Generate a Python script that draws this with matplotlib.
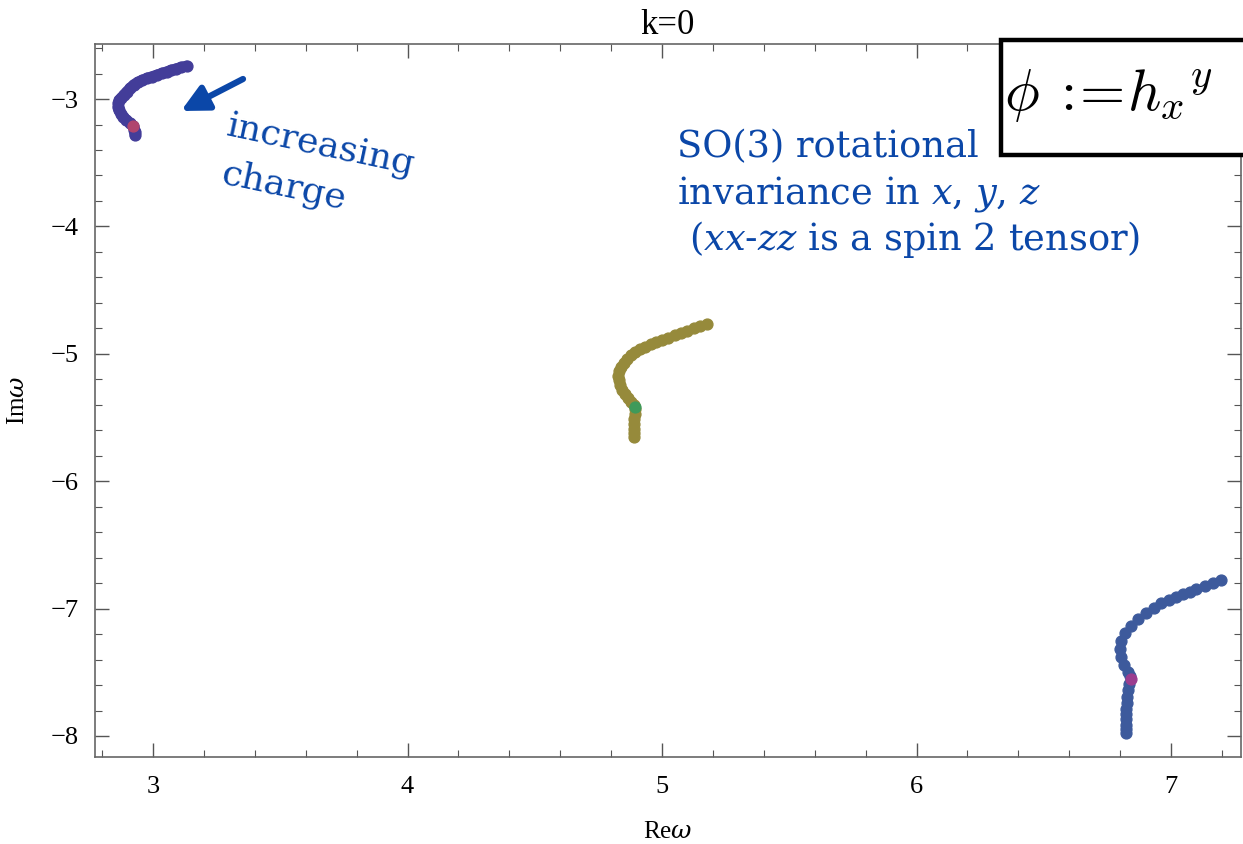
import matplotlib
matplotlib.use("Agg")
import matplotlib.pyplot as plt
from matplotlib.patches import Rectangle
from matplotlib.ticker import MultipleLocator

# quasinormal mode trajectories (Re w, Im w)
re_1 = [3.132, 3.110, 3.090, 3.070, 3.054, 3.035, 3.015, 2.995, 2.975, 2.958,
        2.940, 2.924, 2.910, 2.897, 2.885, 2.876, 2.868, 2.864, 2.863, 2.866,
        2.874, 2.883, 2.895, 2.910, 2.923, 2.927, 2.929, 2.929]
im_1 = [-2.741, -2.752, -2.763, -2.775, -2.786, -2.799, -2.812, -2.825, -2.838, -2.853,
        -2.868, -2.888, -2.916, -2.942, -2.968, -2.990, -3.008, -3.035, -3.060, -3.086,
        -3.115, -3.140, -3.165, -3.190, -3.210, -3.240, -3.262, -3.283]
mark_1 = (2.923, -3.210)

re_2 = [5.175, 5.150, 5.125, 5.100, 5.075, 5.050, 5.025, 5.000, 4.978, 4.955,
        4.935, 4.915, 4.895, 4.878, 4.862, 4.849, 4.838, 4.831, 4.828, 4.829,
        4.834, 4.843, 4.855, 4.867, 4.880, 4.890, 4.893, 4.892, 4.891, 4.890,
        4.890, 4.890, 4.890]
im_2 = [-4.766, -4.783, -4.800, -4.818, -4.835, -4.853, -4.872, -4.890, -4.905, -4.924,
        -4.943, -4.963, -4.986, -5.012, -5.040, -5.070, -5.103, -5.137, -5.172, -5.207,
        -5.245, -5.283, -5.318, -5.350, -5.380, -5.405, -5.430, -5.470, -5.510, -5.550,
        -5.590, -5.620, -5.651]
mark_2 = (4.893, -5.420)

re_3 = [7.198, 7.165, 7.132, 7.099, 7.073, 7.047, 7.021, 6.992, 6.962, 6.932,
        6.900, 6.870, 6.844, 6.820, 6.805, 6.798, 6.802, 6.814, 6.831, 6.838,
        6.835, 6.831, 6.828, 6.826, 6.825, 6.824, 6.824, 6.824, 6.824, 6.824]
im_3 = [-6.776, -6.797, -6.823, -6.849, -6.868, -6.885, -6.907, -6.933, -6.958, -6.993,
        -7.032, -7.079, -7.134, -7.189, -7.254, -7.319, -7.382, -7.442, -7.495, -7.530,
        -7.590, -7.640, -7.692, -7.740, -7.790, -7.830, -7.870, -7.910, -7.945, -7.974]
mark_3 = (6.841, -7.555)

W, H = 1243, 844
blue = "#0b47a8"
serif = ["Liberation Serif", "DejaVu Serif"]
plt.rcParams["mathtext.fontset"] = "custom"
plt.rcParams["mathtext.it"] = "DejaVu Serif:italic"
plt.rcParams["mathtext.rm"] = "DejaVu Serif"

def fpos(x, y):
    # pixel position -> figure fraction
    return x / W, 1 - y / H

fig = plt.figure(figsize=(W / 100, H / 100), dpi=100)
ax = fig.add_axes([95 / W, 1 - 757 / H, (1241 - 95) / W, (757 - 44) / H])

ms = 7.8
ax.plot(re_1, im_1, "-o", color="#433d99", lw=ms, ms=ms, solid_capstyle="round")
ax.plot(*mark_1, "o", color="#b0456e", ms=ms)
ax.plot(re_2, im_2, "o", color="#968a3b", ms=ms)
ax.plot(*mark_2, "o", color="#3f9a5a", ms=ms)
ax.plot(re_3, im_3, "o", color="#3d5a9c", ms=ms)
ax.plot(*mark_3, "o", color="#9b3d8f", ms=ms)

ax.set_xlim(2.772, 7.275)
ax.set_ylim(-8.165, -2.568)
ax.xaxis.set_major_locator(MultipleLocator(1))
ax.xaxis.set_minor_locator(MultipleLocator(0.2))
ax.yaxis.set_major_locator(MultipleLocator(1))
ax.yaxis.set_minor_locator(MultipleLocator(0.2))
ax.tick_params(which="both", direction="in", top=True, right=True, color="#555555")
ax.tick_params(which="major", length=10, width=1)
ax.tick_params(which="minor", length=5, width=0.8)
ax.tick_params(axis="x", pad=14, labelsize=19)
ax.tick_params(axis="y", pad=12, labelsize=19)
for lab in ax.get_xticklabels() + ax.get_yticklabels():
    lab.set_family(serif)
for s in ax.spines.values():
    s.set_color("#666666")
    s.set_linewidth(1.2)

ax.set_title("k=0", family=serif, fontsize=25, pad=7)
ax.set_xlabel("Re$\\omega$", family=serif, fontsize=18, labelpad=16)
ax.set_ylabel("Im$\\omega$", family=serif, fontsize=18, labelpad=15)

# arrow and labels
ax.annotate("", xy=fpos(181, 111), xycoords="figure fraction",
            xytext=fpos(243, 79), textcoords="figure fraction",
            arrowprops=dict(arrowstyle="-|>", color=blue, lw=4.5, mutation_scale=40,
                            shrinkA=0, shrinkB=0))
fig.text(*fpos(225, 135), "increasing", color=blue, family="DejaVu Serif", fontsize=26,
         rotation=-12, rotation_mode="anchor", ha="left", va="baseline")
fig.text(*fpos(220, 183), "charge", color=blue, family="DejaVu Serif", fontsize=26,
         rotation=-12, rotation_mode="anchor", ha="left", va="baseline")

txt = dict(color=blue, family="DejaVu Serif", fontsize=26.5, va="baseline",
           math_fontfamily="custom")
fig.text(*fpos(677, 157), "SO(3) rotational", **txt)
fig.text(*fpos(677, 203), "invariance in $x$, $y$, $z$", **txt)
fig.text(*fpos(689, 250), "($xx$-$zz$ is a spin 2 tensor)", **txt)

# boxed field label, partly off the right edge
fig.patches.append(Rectangle(fpos(1001, 155), 300 / W, 115 / H, transform=fig.transFigure,
                             facecolor="white", edgecolor="black", lw=3.2, zorder=5))
box_txt = dict(fontsize=42, va="baseline", ha="left", math_fontfamily="cm", zorder=6)
fig.text(*fpos(1004, 110), "$\\phi$", **box_txt)
fig.text(*fpos(1050, 110), "${:}\\!\\!=$", **box_txt)
fig.text(*fpos(1127, 110), "${h_x}^y$", **box_txt)

fig.savefig("out.png", dpi=100)
